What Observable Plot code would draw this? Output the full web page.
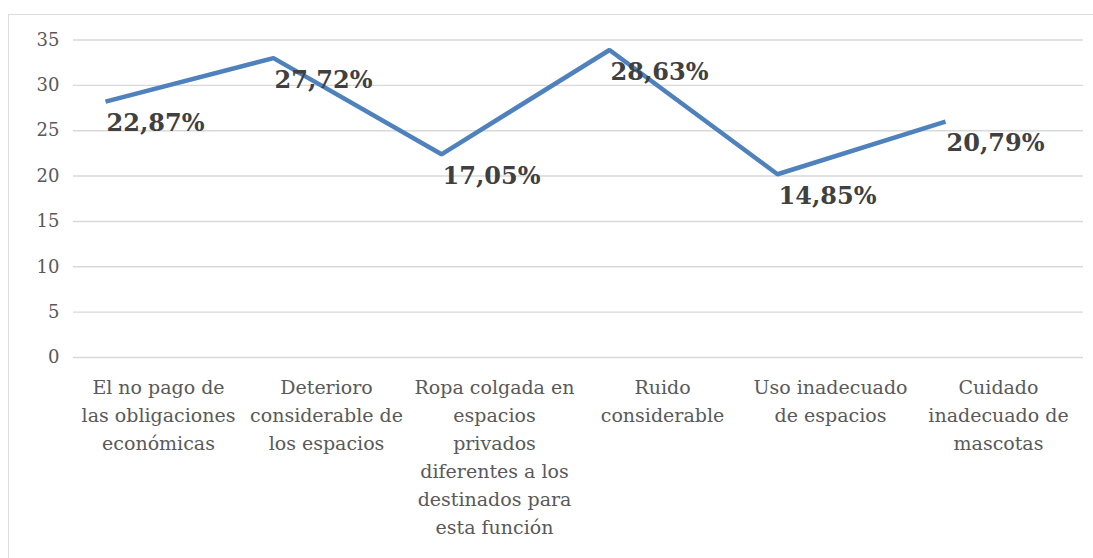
<!DOCTYPE html>
<html>
<head>
<meta charset="utf-8">
<script src="https://cdn.jsdelivr.net/npm/d3@7"></script>
<script src="https://cdn.jsdelivr.net/npm/@observablehq/plot@0.6"></script>
<style>
  html, body { margin: 0; padding: 0; background: #fff; }
  #wrap { position: relative; width: 1093px; height: 558px; overflow: hidden; }
  #frame { position: absolute; left: 8px; top: 14px; width: 1200px; height: 700px;
           border-left: 1.5px solid #dcdcdc; border-top: 1.5px solid #dcdcdc; pointer-events: none; }
  #chart { position: absolute; left: 0; top: 0; }
</style>
</head>
<body>
<div id="wrap"><div id="chart"></div><div id="frame"></div></div>
<script>
const categories = [
  "El no pago de\nlas obligaciones\neconómicas",
  "Deterioro\nconsiderable de\nlos espacios",
  "Ropa colgada en\nespacios\nprivados\ndiferentes a los\ndestinados para\nesta función",
  "Ruido\nconsiderable",
  "Uso inadecuado\nde espacios",
  "Cuidado\ninadecuado de\nmascotas"
];
const values = [28.2, 33.0, 22.4, 33.9, 20.2, 26.0];
const pctLabels = ["22,87%", "27,72%", "17,05%", "28,63%", "14,85%", "20,79%"];
const yTicks = [0, 5, 10, 15, 20, 25, 30, 35];

const data = categories.map((c, i) => ({cat: c, value: values[i], label: pctLabels[i]}));

const chart = Plot.plot({
  width: 1093,
  height: 558,
  marginLeft: 73,
  marginRight: 10,
  marginTop: 39.5,
  marginBottom: 201,
  style: {fontFamily: "'DejaVu Serif', serif", background: "transparent"},
  x: {type: "band", domain: categories, padding: 0, axis: null},
  y: {domain: [0, 35], ticks: yTicks},
  marks: [
    Plot.gridY(yTicks, {stroke: "#d9d9d9", strokeOpacity: 1, strokeWidth: 1.4}),
    Plot.axisY(yTicks, {tickSize: 0, tickPadding: 14, fontSize: 18, fill: "#595959", label: null,
                        fontFamily: "'DejaVu Serif', serif"}),
    Plot.text(categories, {x: d => d, text: d => d, frameAnchor: "bottom", lineAnchor: "top",
                           dy: 16.5, lineHeight: 1.475, fontSize: 19, fill: "#595959", textAnchor: "middle"}),
    Plot.line(data, {x: "cat", y: "value", dx: -53, stroke: "#4f81bd", strokeWidth: 4.5,
                     strokeLinejoin: "miter", strokeLinecap: "butt"}),
    Plot.text(data, {x: "cat", y: "value", text: "label", dx: -52, dy: 22, textAnchor: "start",
                     lineAnchor: "middle", fontSize: 24, fontWeight: "bold", fill: "#404040"})
  ]
});
document.getElementById("chart").appendChild(chart);
</script>
</body>
</html>
